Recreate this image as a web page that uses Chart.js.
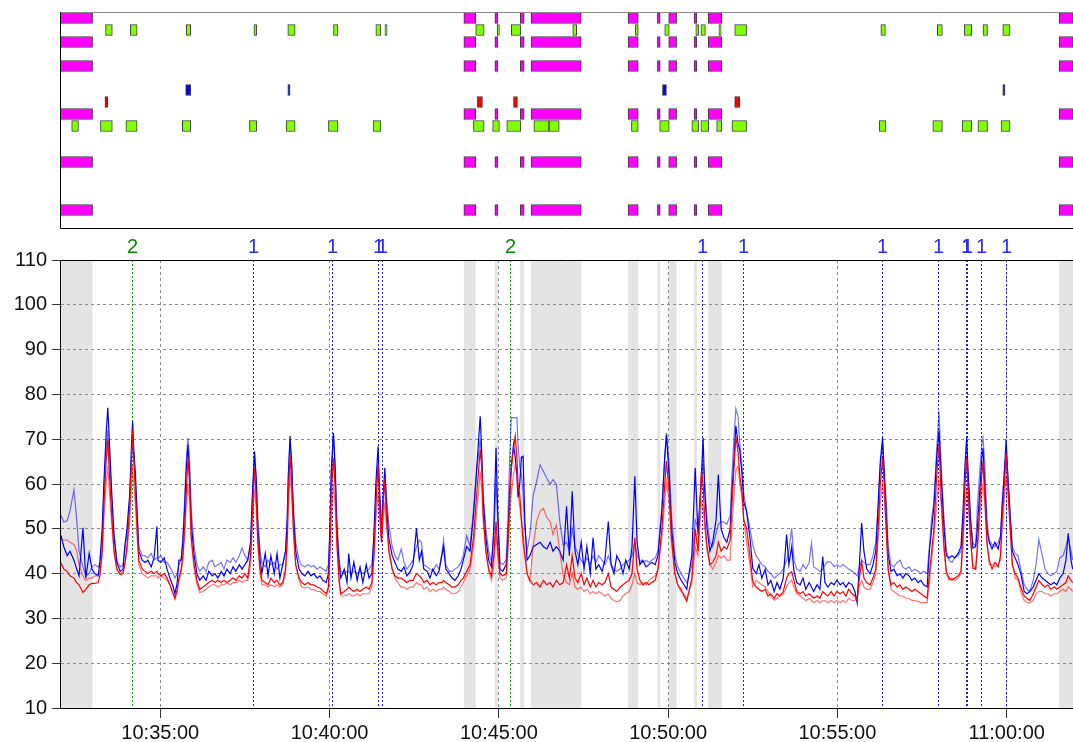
<!DOCTYPE html>
<html><head><meta charset="utf-8">
<script src="https://cdn.jsdelivr.net/npm/chart.js@4"></script>
<style>
html,body{margin:0;padding:0;background:#fff;overflow:hidden;}
#wrap{position:relative;width:1073px;height:742px;}
canvas{position:absolute;left:0;top:0;}
</style></head><body>
<div id="wrap">
<canvas id="main" width="1073" height="742"></canvas>
<canvas id="top" width="1073" height="240"></canvas>
</div>
<script>
// ---------- time range (seconds since midnight) ----------
const X_MIN = 37922.3, X_MAX = 39717.5;
const xTickValues = [38100, 38400, 38700, 39000, 39300, 39600];
const yMin = 10, yMax = 110, yStep = 10;

// ---------- line series ----------
const times = [
37924,37929,37935,37940,37947,37952,37956,37963,37968,37974,
37979,37984,37990,37993,37997,38000,38004,38007,38010,38014,
38018,38023,38029,38034,38037,38041,38046,38049,38051,38053,
38056,38059,38062,38068,38073,38078,38084,38089,38094,38096,
38101,38107,38112,38117,38123,38126,38130,38133,38137,38140,
38143,38146,38149,38152,38155,38160,38165,38170,38176,38181,
38186,38192,38197,38202,38208,38213,38218,38224,38229,38234,
38240,38245,38250,38255,38260,38263,38267,38270,38273,38277,
38280,38286,38291,38296,38302,38307,38312,38317,38322,38325,
38327,38330,38333,38336,38340,38346,38351,38356,38362,38367,
38372,38378,38383,38388,38394,38398,38401,38403,38407,38410,
38413,38417,38420,38426,38431,38434,38438,38443,38449,38454,
38459,38465,38470,38475,38479,38482,38486,38489,38492,38495,
38498,38501,38505,38511,38516,38521,38527,38532,38537,38543,
38548,38554,38559,38563,38567,38573,38578,38583,38589,38594,
38599,38602,38606,38612,38617,38622,38628,38633,38637,38643,
38649,38655,38661,38667,38670,38672,38677,38682,38687,38691,
38695,38698,38702,38707,38713,38716,38719,38722,38726,38729,
38732,38734,38737,38740,38743,38746,38750,38755,38761,38767,
38773,38779,38785,38791,38796,38802,38808,38814,38820,38825,
38830,38835,38840,38846,38851,38856,38862,38867,38872,38877,
38883,38888,38894,38899,38904,38909,38915,38920,38925,38931,
38936,38941,38945,38950,38955,38961,38966,38971,38977,38982,
38989,38994,38997,39002,39006,39012,39017,39023,39028,39033,
39037,39042,39048,39053,39059,39062,39065,39069,39074,39079,
39085,39089,39094,39099,39104,39110,39113,39117,39120,39124,
39127,39131,39134,39139,39145,39150,39156,39161,39166,39172,
39177,39182,39188,39193,39198,39204,39210,39214,39219,39223,
39228,39234,39239,39244,39250,39254,39258,39264,39269,39274,
39278,39283,39289,39294,39299,39305,39310,39315,39320,39326,
39331,39335,39338,39343,39347,39352,39358,39363,39368,39373,
39376,39380,39383,39387,39390,39395,39400,39406,39411,39416,
39421,39427,39432,39437,39443,39448,39453,39459,39463,39467,
39471,39476,39480,39484,39489,39493,39498,39503,39508,39514,
39519,39523,39526,39529,39532,39536,39540,39545,39548,39553,
39556,39558,39561,39565,39569,39574,39579,39585,39589,39592,
39596,39599,39602,39606,39610,39615,39620,39625,39631,39636,
39641,39647,39652,39657,39663,39668,39673,39678,39684,39689,
39694,39700,39705,39709,39714,39717
];
const blueDark = [
48.5,46,44,45,43,41,39.5,50.2,39,44.5,
41,40,39.5,42.5,50,60,71,77,69,58,
48.5,42.5,40.5,41,46,50,58,68.8,74,68,
62,53,45,43,42.5,43,41.5,43.5,50.5,43,
42.5,43.5,41,39,37,35.5,38,43,43,47,
54,63,68.8,62,51,44,40,38.5,39.5,38.5,
40.5,39.5,40,39,40.5,39.5,41,40,41.5,40.5,
42,41,42,43,47,57,67.3,61,50,43,
40,44.5,39.5,44,40,44.5,39,42,45,52,
62,70.7,64,53,45,41,40,39.5,40.5,39.5,
40,39,39.5,38.5,38,40,52,63,71.4,63,
50,42,39,41,38,44.5,39,42.5,38.5,41.5,
38,42,39,40,50,60,68.4,57,48,57,
63.6,55,48,44,42.5,41,40.5,41.5,39.5,40.5,
42,50.1,43,45,41,40.5,39,41,39.5,40.5,
44,46,41,40,39,38.5,39.5,41,43,46,
45,53,64,75.1,66,57,48,43,41.5,50,
68.1,54,41,40.5,42,48,58,64,68.8,66,
62,57,60,66,66.2,52,43,44,46,46.5,
47,46,45.5,47,45,46,45,43,55,44,
58.4,45,42,47,41,46,40,48,41,42,
40.5,43,51.6,42,40,44,42.5,40,43,41,
46,61.7,47,42,43,41.5,42,42.5,42,44,
54,66,71,61.3,50,42.5,40,38.5,37.5,36.5,
40,44,63.6,48.7,62,70.3,58,50,45,47,
52,62.1,50,48,47,50,58,66,73,69,
67.5,62,56,53.9,48,41.2,40,42,39,41,
37.5,38.5,36,38,36.5,39,48.7,42,46,40.5,
38,37.5,39,36.5,38,37,36,37.5,36.5,43.8,
38,37,38,37.5,38.5,37.5,38,37,38,37.5,
36,33.5,40,51.3,45,41,40,42,45,57.6,
65,70.3,62,52,44.2,40.5,41,39.5,40,39,
40,39.5,38.5,39,38,38.5,37.5,37,45,50,
55,66,72,62,50,44,43.5,44,43.5,44.5,
46,55,64,70.3,62,52,45.7,46,50,60,
66,68,60,50,47,45.5,47,45.5,48,55,
63,69.9,62,53,45,43.5,42,40,36,35.5,
36,37,38.5,40,39,38.5,38,37.5,38,37.5,
39,40,43,49,43,41
];
const blueLight = [
53,51.5,51.8,54,58.7,52,45,41.5,39.5,40,
41.5,42,41.5,42.5,48,58,68,72,66,57,
49,43,41.5,42,45,49,57,66,70,66,
61,54,46,44,44,43.5,44.5,43,43.5,43.5,
44,42.5,42.5,41.5,40,39,40,42,43,48,
56,65,70.3,65,54,46,42,40.5,41.5,40.5,
42.5,43,41.5,42,42.5,41,43,42.5,43.5,42.5,
44,45.7,44,43,46,56,66,62,52,45,
42.5,41.5,43,42,42.5,41,42,42,45,53,
62,69.6,64,55,47,43,41.8,41.5,42,41.5,
41.8,41,41.5,41,40.5,42,50,62,70.7,64,
52,43,40.5,40,40.5,40.5,40,40.5,40,40.5,
40,40.5,41,42,48,57,64.3,58,52,57,
62,57,51,46,44,43,45.5,42.5,41,42,
43,46,47.5,47,42,41.5,41,40.5,42,41,
44.5,47.5,42,40.5,40.5,41,41.5,42.5,44,48.5,
46,54,63,70,64,58,50,45,42.5,48,
61,52,42.5,42,43,52,65,74.8,74.8,74.8,
74.8,68.8,64,62,58,50,45,48.7,57.6,60.6,
64.3,62.8,61.3,59.9,61,59.9,51.6,46.4,47,45,
50,46,44.5,43,42,43.5,42,44,42.5,44,
43,42,44,42,41,40.5,41,42,42.5,43,
44,47,44,43,42.5,43,42.5,43,43.5,45,
55,66,71.4,64,53,44,41.5,40,39,38,
39.5,42,52,50,60,65,60,52,47,46,
49,51,51.6,51.5,51,53,62,71,76.8,75,
69,64,58,54,50,46.4,44,43,42,41.5,
40.5,40,39,39.5,40,41,43,45,50.1,43,
41,40.5,42,41,42.5,46.8,41.5,41,40.5,41,
42,42.7,42.5,41.5,42,41.5,42,41.5,41,40.5,
40,39.5,41,43,42.5,42,42,44,47,56,
64,69,64,55,46,42,41.5,42.5,43,41.5,
41,41.5,40.5,41,40.5,40,40.5,40,46,52.4,
56,68,76.3,63,52,45,43,42.5,43.5,44,
45,52,60,66,60,52,47,46,55,64,
69,70.3,65,52,47.5,46.5,46,47,48.5,56,
63,67,62,54,46,44.5,44,41,37.5,36.5,
36,38.5,42,47.6,44,41,40,39.5,40,40.5,
43.5,44,46,48,45,43
];
const redDark = [
42.4,41,40.5,39.5,39,38,37.5,35.8,36.5,37.5,
37.8,37.8,38,39.5,45,55,65,70,62,53,
45,41,39.8,40,42,46,55,65,72,66,
58,50,43,41,40.5,40,40.5,40,40.5,40,
39.5,40,39,37.5,35.5,34.5,36.5,39,41,44,
50,58,66,60,48,42,38.5,36.5,37,37.5,
38,38.5,38,38.5,38,38.5,38,38.5,39,38.5,
39.5,39,40,39,44,53,63.5,57,47,41,
38.5,38,37.5,39,38,38.5,37.5,38,41,48,
58,66.6,60,50,42,39,38,37.5,38,37.5,
37.5,37,36.8,36.2,35.5,37,47,58,65.8,59,
47,38.5,35.5,36,36.5,37,36.5,36,36.5,36,
36.5,37,36.5,38,45,55,64.3,55,47,55,
61.3,52,45,41,39.5,39,39,38.5,38,38.5,
38.5,40,39.5,39,38,38.5,37.5,38,37.5,38,
38,38.5,38,37.5,37,37,37.5,38.5,39,40.5,
42,48,58,67.7,63,54,45,41,39.5,44,
51.6,46,40,39.5,40,46,56,63,68,70.7,
66,60,57.6,52,47,44,40,38.5,37.5,38,
37,38.5,37.5,38,37,38.5,37.5,38,42,39,
44,39,38,40,37.5,39,37,38.5,37,38,
37.5,38,40,37,36.5,36,37,37.5,38,38.5,
40,48,41,38.5,37.5,38,37.5,38,38.5,41,
50,60,65.1,58,48,40,37.5,36.5,35,33.8,
36,39,50,45,62.8,60,52,46,42,42.5,
44,47,45,46,45.5,47.5,55,64,70.7,67,
62,58,52,50.1,44,38.2,37,36.5,36,36.5,
35,35.5,34.5,35.5,35,36,39,40,40.4,38.5,
36,35.5,36,35,35.5,35,34.5,35,34.5,36,
35.5,35,36,35,36,35.5,36,35,36.5,35.5,
35,34,38,42.7,39,38,37.5,39,41,52,
60,65.8,60,49,41,37.5,38,37,37.5,36.5,
37,36.5,36,36.5,36,35.5,35,34.5,40,45,
50,62,68.8,57,46,40.5,39,38.5,39,39.5,
40.5,50,60,65.8,58,48,41.2,41,46,57,
62,65.1,58,47,43,41,42.5,41.5,44,52,
60,66.9,60,51,42,40,39,37,35,34.5,
34,35.5,37,38.5,37.5,37,37.5,36.5,37,36.5,
37,37.5,38,39.5,38.5,38
];
const redLight = [
47.8,47.5,47.5,47,46.5,45,42,39.5,38.5,39,
39,39.5,39.5,40,44,52,60,64,58,51,
45,41,40,40.5,42,45,52,60,64,60,
55,48,42,40,39.5,39,39.5,39.5,39.5,39,
39.5,39,38.5,37.5,35.5,34.2,36,38.5,40,43,
48,55,60,56,47,41,37.5,35.8,36,36.5,
37,37.5,37.5,37,37.5,37.5,38,37.5,38,38,
38.5,38,38.5,38.5,42,50,59,55,46,40,
37.5,37.5,37,37.5,37,37.5,37,37.5,40,46,
55,62.8,57,49,42,38.5,37,36.8,37,36.5,
36.5,36,36,35.5,35,36.5,44,53,59.9,55,
46,38,35,35,35.2,35.5,35.2,35,35.5,35,
35.5,35.5,35.5,37,44,52,58,52,47,52,
56,51,46,41,39,38,37,37,36.5,37,
37,38,37.5,37.5,36.5,37,36,36.5,36,36.5,
36.5,37,36.5,36,35.5,35.5,36,37,38,39.5,
41,46,54,62.8,58,52,45,40.5,38.5,42,
49,44,39,38.5,39,44,52,58,62,64.3,
62,58,55,52,49,45,40,38.2,46.4,51.6,
53.9,54.6,52.5,51.6,48.7,50.9,44.9,39.7,38,37.5,
40,37,36.5,37,36,36.5,35.5,36,35.5,36,
35.5,35,35.5,34.5,34,33.7,34,35,35.5,36,
37.5,40,38,37.5,38,37.5,38.5,39,39.5,41,
48,56,60.6,56,47,40,37.5,36,35.5,34.5,
36,38,46,44,56,55,50,45,42,41,
42.5,44,43.5,44,43,43,50,58,63,64,
60,57,52,47,42,37,38.5,38,37.5,37,
36,35,34,34.5,35,35.5,37,38,38.5,37,
35.5,35,34.5,34,34.5,34,33.5,34,33.5,34,
34,33.5,34,33.5,34,33.5,34,33.5,34.5,34,
34,35,37,38.5,37,36.5,36.5,38,40,49,
56,59.9,57,48,40.5,36.5,36,35.5,35,35,
34.5,34.5,34,34,33.8,33.5,33.5,33.5,38,43,
48,56,61.3,55,45,40,38.5,39,38.5,39,
40,47,55,59,55,47,42,41,45,54,
58,60,56,47,42,42,41.5,42,43,50,
57,62,58,50,42,39,38.5,36,34,33.5,
33.5,34,35.5,36,36,35.5,35.5,35,35.5,35.5,
36,36.5,36,37,36.5,36
];

// ---------- activity panel (top) ----------
const rowLabels = ['0','1','2','3','4','5','6','7','8','9','10','11','12','13','14','15','16','17'];
const activeStart = [37922,38638,38693,38738,38757,38929,38981,39001,39046,39071,39693];
const activeEnd   = [37980,38659,38698,38745,38846,38947,38986,39015,39051,39095,39718];
const pinkRows = [0,2,4,8,12,16];
const greenARow = 1;
const greenAStart = [38003,38047,38146,38266,38326,38407,38482,38498,38659,38697,38722,38831,38942,38994,39049,39058,39090,39118,39377,39477,39525,39558,39593];
const greenAEnd   = [38015,38059,38154,38271,38339,38415,38491,38502,38674,38701,38739,38838,38947,39002,39054,39066,39094,39139,39385,39486,39538,39566,39606];
const greenBRow = 9;
const greenBStart = [37943,37994,38039,38139,38258,38323,38398,38477,38655,38689,38714,38762,38789,38935,38985,39042,39058,39086,39113,39374,39469,39521,39549,39590];
const greenBEnd   = [37955,38015,38059,38154,38271,38339,38415,38491,38674,38701,38739,38789,38807,38947,39002,39054,39072,39095,39139,39386,39486,39538,39566,39606];
const blueRow = 6;
const blueStart = [38145,38326,38990,39593];
const blueEnd   = [38154,38330,38997,39597];
const redRow = 7;
const redStart = [38002,38662,38726,39118];
const redEnd   = [38007,38671,38733,39127];

// ---------- events ----------
const eventTimes  = [38050,38265,38405,38485,38493,38720,39060,39132,39379,39479,39527,39530,39554,39599];
const eventLabels = ['2','1','1','1','1','2','1','1','1','1','1','1','1','1'];

// ---------- helpers ----------
const FONT = "'Liberation Sans', Arial, sans-serif";
Chart.defaults.font.family = FONT;
function fmtTime(v){
  const h=Math.floor(v/3600), m=Math.floor((v%3600)/60), s=Math.round(v%60);
  return h+':'+String(m).padStart(2,'0')+':'+String(s).padStart(2,'0');
}
function pts(arr){ return times.map((t,i)=>({x:t,y:arr[i]})); }

const decorPlugin = {
  id:'decor',
  beforeDraw(chart){
    const {ctx, chartArea:a, scales:{x}} = chart;
    ctx.save();
    ctx.fillStyle = '#e4e4e4';
    for (let i=0;i<activeStart.length;i++){
      const x0 = Math.max(a.left, x.getPixelForValue(activeStart[i]));
      const x1 = Math.min(a.right, x.getPixelForValue(activeEnd[i]));
      if (x1 > x0) ctx.fillRect(x0, a.top, x1-x0, a.bottom-a.top);
    }
    ctx.restore();
  },
  beforeDatasetsDraw(chart){
    const {ctx, chartArea:a, scales:{x}} = chart;
    ctx.save();
    ctx.font = '20px ' + FONT;
    ctx.textAlign = 'center';
    ctx.textBaseline = 'alphabetic';
    eventTimes.forEach((t,i)=>{
      const px = Math.round(x.getPixelForValue(t));
      const isTwo = eventLabels[i]==='2';
      ctx.fillStyle = isTwo ? '#00a000' : '#1a1aff';
      for (let yy = Math.ceil(a.top); yy < a.bottom; yy += 4) ctx.fillRect(px, yy, 1, 2);
      ctx.fillStyle = isTwo ? '#008a00' : '#2a2aff';
      ctx.fillText(eventLabels[i], px + 0.5, a.top - 7);
    });
    ctx.restore();
  },
  afterDraw(chart){
    const {ctx, chartArea:a} = chart;
    ctx.save();
    ctx.strokeStyle = '#000'; ctx.lineWidth = 1;
    ctx.beginPath(); ctx.moveTo(a.left, a.top+0.5); ctx.lineTo(a.right, a.top+0.5); ctx.stroke();
    ctx.restore();
  }
};

new Chart(document.getElementById('main'), {
  type:'line',
  data:{ datasets:[
    {label:'redDark', data:pts(redDark), borderColor:'#ff0000', borderWidth:1.2},
    {label:'redLight', data:pts(redLight), borderColor:'rgba(255,0,0,0.55)', borderWidth:1.2},
    {label:'blueDark', data:pts(blueDark), borderColor:'#0000ff', borderWidth:1.2},
    {label:'blueLight', data:pts(blueLight), borderColor:'rgba(0,0,255,0.55)', borderWidth:1.2}
  ]},
  options:{
    responsive:false, animation:false,
    layout:{padding:{top:260,left:0,right:0,bottom:0}},
    elements:{point:{radius:0}, line:{tension:0, fill:false}},
    plugins:{legend:{display:false}, tooltip:{enabled:false}},
    scales:{
      x:{type:'linear', min:X_MIN, max:X_MAX,
        afterBuildTicks(s){ s.ticks = xTickValues.map(v=>({value:v})); },
        afterFit(s){ s.height = 34; },
        ticks:{autoSkip:false, maxRotation:0, minRotation:0,
          font:{size:20}, color:'#111', padding:3, callback:v=>fmtTime(v)},
        grid:{color:'#8c8c8c', lineWidth:1, tickLength:10, tickColor:'#333', tickBorderDash:[]},
        border:{display:true, color:'#000', width:1, dash:[3,3]}
      },
      y:{type:'linear', min:yMin, max:yMax,
        afterFit(s){ s.width = 60; },
        ticks:{stepSize:yStep, font:{size:20}, color:'#111', padding:5},
        grid:{color:'#8c8c8c', lineWidth:1, tickLength:8, tickColor:'#333', tickBorderDash:[]},
        border:{display:true, color:'#000', width:1, dash:[3,3]}
      }
    }
  },
  plugins:[decorPlugin]
});

// ---------- top activity chart ----------
function segs(rows, starts, ends){
  const out=[];
  rows.forEach(r=>starts.forEach((s,i)=>out.push({y:rowLabels[r], x:[s, ends[i]]})));
  return out;
}
const barOpts = {borderColor:'#3a3a3a', borderWidth:1, borderSkipped:false, barThickness:11, grouped:false};
const framePlugin = {
  id:'frame',
  afterDraw(chart){
    const {ctx, chartArea:a} = chart;
    ctx.save();
    ctx.lineWidth = 1;
    ctx.strokeStyle = '#8a8a8a';
    ctx.beginPath(); ctx.moveTo(a.left, a.top+0.5); ctx.lineTo(a.right, a.top+0.5); ctx.stroke();
    ctx.strokeStyle = '#000';
    ctx.beginPath(); ctx.moveTo(a.left+0.5, a.top); ctx.lineTo(a.left+0.5, a.bottom+0.5); ctx.lineTo(a.right, a.bottom+0.5); ctx.stroke();
    ctx.restore();
  }
};
new Chart(document.getElementById('top'), {
  type:'bar',
  data:{ labels:rowLabels, datasets:[
    Object.assign({label:'pink', data:segs(pinkRows, activeStart, activeEnd), backgroundColor:'#ff00ff'}, barOpts),
    Object.assign({label:'greenA', data:segs([greenARow], greenAStart, greenAEnd), backgroundColor:'#80ff00'}, barOpts),
    Object.assign({label:'greenB', data:segs([greenBRow], greenBStart, greenBEnd), backgroundColor:'#80ff00'}, barOpts),
    Object.assign({label:'blue', data:segs([blueRow], blueStart, blueEnd), backgroundColor:'#0000ff'}, barOpts),
    Object.assign({label:'red', data:segs([redRow], redStart, redEnd), backgroundColor:'#ff0000'}, barOpts)
  ]},
  options:{
    indexAxis:'y', responsive:false, animation:false,
    layout:{padding:{top:12,left:60,right:0,bottom:12}},
    plugins:{legend:{display:false}, tooltip:{enabled:false}},
    scales:{
      x:{type:'linear', min:X_MIN, max:X_MAX, display:false},
      y:{type:'category', display:false, offset:true}
    }
  },
  plugins:[framePlugin]
});
</script>
</body></html>
